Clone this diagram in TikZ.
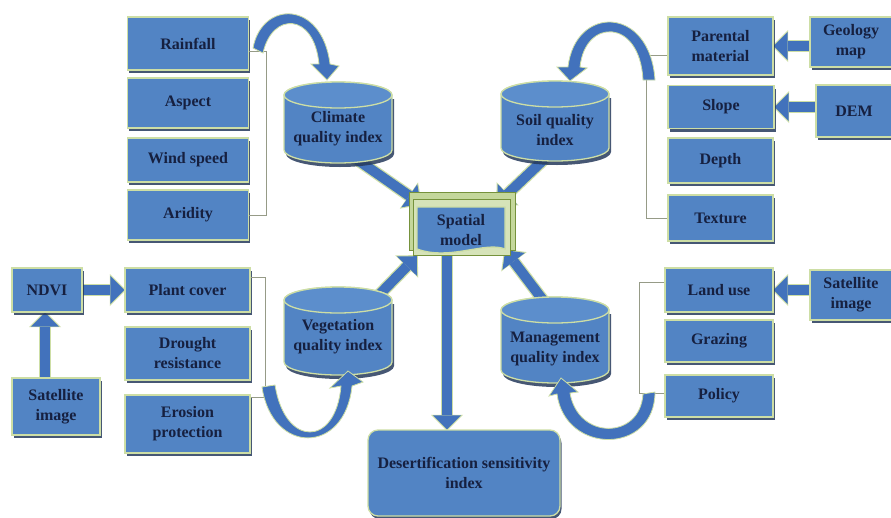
\documentclass[tikz,border=0pt]{standalone}
\usepackage{fontspec}
\setmainfont{Liberation Serif}
\usetikzlibrary{arrows.meta,shadows,calc}
\definecolor{boxblue}{RGB}{82,132,196}
\definecolor{topblue}{RGB}{92,142,204}
\definecolor{arrowblue}{RGB}{66,114,188}
\definecolor{edgegreen}{RGB}{205,222,165}
\definecolor{shadowblue}{RGB}{38,58,92}
\definecolor{textnavy}{RGB}{22,32,64}
\definecolor{brkgray}{RGB}{150,155,135}
\definecolor{framegreen}{RGB}{196,215,155}
\definecolor{framedark}{RGB}{118,146,60}
\pgfdeclarelayer{bg}
\pgfdeclarelayer{arr}
\pgfsetlayers{bg,arr,main}
\newcommand\mycyl[6]{%
  \fill[shadowblue,opacity=0.85] ({#2-52},{#3+4}) -- ({#2-52},{#4+4}) arc[start angle=180,end angle=360,x radius=54pt,y radius=13pt] -- ({#2+56},{#3+4}) -- cycle;
  \filldraw[fill=boxblue, draw=edgegreen, line width=1.3pt] ({#2-54},{#3}) -- ({#2-54},{#4}) arc[start angle=180,end angle=360,x radius=54pt,y radius=13pt] -- ({#2+54},{#3}) arc[start angle=0,end angle=180,x radius=54pt,y radius=13pt] -- cycle;
  \filldraw[fill=topblue, draw=edgegreen, line width=1.3pt] (#2,#3) ellipse[x radius=54pt, y radius=13pt];
  \node[cyltext] (#1) at (#2,#5) {#6};
}
\begin{document}
\begin{tikzpicture}[x=1pt,y=-1pt,
  txt/.style={text=textnavy, font=\fontsize{16}{20}\selectfont\bfseries, align=center},
  box/.style={txt, rectangle, fill=boxblue, draw=edgegreen, line width=1.3pt, inner sep=1pt,
    drop shadow={shadow xshift=1.5pt, shadow yshift=-3pt, fill=shadowblue, opacity=0.85}},
  sz/.style 2 args={minimum width=#1pt, minimum height=#2pt},
  cyltext/.style={txt, inner sep=0pt},
  brk/.style={draw=brkgray, line width=0.8pt},
  cur/.style={fill=arrowblue, draw=edgegreen, line width=0.8pt},
  blk/.style={draw=arrowblue, line width=10pt, -{Triangle[length=14pt,width=28pt,line width=0pt]},
    preaction={draw=edgegreen, line width=12.5pt, shorten >=-1.5pt, -{Triangle[length=16pt,width=32pt,line width=0pt]}}}
]
\useasboundingbox (0,0) rectangle (891,517);
\begin{pgfonlayer}{bg}
\fill[white] (0,0) rectangle (891,517);
\end{pgfonlayer}

% left column
\node[box,sz={121}{53}] (rainfall) at (188,43.5) {Rainfall};
\node[box,sz={121}{50}] (aspect) at (188,103) {Aspect};
\node[box,sz={121}{44}] (wind) at (188,160) {Wind speed};
\node[box,sz={121}{50}] (aridity) at (188,215) {Aridity};
% right column
\node[box,sz={105}{58}] (parental) at (720.5,46) {Parental\\material};
\node[box,sz={82}{50}] (geology) at (851,42) {Geology\\map};
\node[box,sz={106}{43}] (slope) at (721,107) {Slope};
\node[box,sz={76}{52}] (dem) at (854,111) {DEM};
\node[box,sz={105}{45}] (depth) at (720.5,160.5) {Depth};
\node[box,sz={105}{46}] (texture) at (720.5,218) {Texture};
% left lower
\node[box,sz={70}{44}] (ndvi) at (47,290) {NDVI};
\node[box,sz={125}{44}] (plant) at (187.5,290) {Plant cover};
\node[box,sz={125}{53}] (drought) at (187.5,353.5) {Drought\\resistance};
\node[box,sz={125}{58}] (erosion) at (187.5,424) {Erosion\\protection};
\node[box,sz={88}{57}] (satleft) at (56,406.5) {Satellite\\image};
% right lower
\node[box,sz={108}{44}] (land) at (719,290) {Land use};
\node[box,sz={108}{42}] (grazing) at (719,341) {Grazing};
\node[box,sz={108}{42}] (policy) at (719,396) {Policy};
\node[box,sz={82}{50}] (satright) at (851,295) {Satellite\\image};
% output
\node[box,rounded corners=10pt,sz={192}{86}] (desert) at (464,473) {Desertification sensitivity\\index};

% cylinders
\mycyl{climate}{338}{95}{150}{129}{Climate\\quality index}
\mycyl{soil}{555}{94}{148}{130}{Soil quality\\index}
\mycyl{vegetation}{338}{300}{362}{337}{Vegetation\\quality index}
\mycyl{management}{555}{310}{370}{349}{Management\\quality index}

% spatial model (stacked document)
\filldraw[fill=framegreen, draw=framedark, line width=1pt] (409,192) rectangle (515,250);
\filldraw[fill=framegreen!70!white, draw=framedark, line width=0.8pt] (413,199) rectangle (510,255);
\filldraw[fill=boxblue, draw=edgegreen, line width=1.3pt] (417,249) .. controls (450,261) and (485,241) .. (505,249) -- (505,207) -- (417,207) -- cycle;
\node[txt, inner sep=0pt, minimum width=88pt, minimum height=44pt] (spatial) at (461,230) {Spatial\\model};
\begin{pgfonlayer}{arr}
  \draw[blk] ([xshift=-25pt]climate.center) -- ([shift={(4pt,4pt)}]spatial.north west);
  \draw[blk] ([xshift=20pt]soil.center) -- ([shift={(-8pt,4pt)}]spatial.north east);
  \draw[blk] (vegetation.center) -- ([yshift=-4pt]spatial.south west);
  \draw[blk] ([xshift=25pt]management.center) -- ([yshift=2pt]spatial.south east);
  \draw[blk] ([xshift=-14pt]spatial.south) -- ([xshift=-14pt]spatial.south |- desert.north);
  \draw[blk] (ndvi.east) -- (plant.west);
  \draw[blk] ([xshift=-11pt]satleft.north) -- ([xshift=-11pt]satleft.north |- ndvi.south);
  \draw[blk] (geology.west |- parental.east) -- (parental.east);
  \draw[blk] (dem.west |- slope.east) -- (slope.east);
  \draw[blk] (satright.west |- land.east) -- (land.east);
\end{pgfonlayer}

% brackets
\draw[brk] ([yshift=-8pt]rainfall.east) -- ++(17,0) |- (aridity.east);
\draw[brk] ([yshift=-9pt]parental.west) -- ++(-21,0) |- (texture.west);
\draw[brk] ([yshift=13pt]plant.east) -- ++(15,0) |- ([yshift=27pt]erosion.east);
\draw[brk] ([yshift=8pt]land.west) -- ++(-25,0) |- ([yshift=3pt]policy.west);

% curved arrows
\filldraw[cur] (253,48) .. controls (262,0) and (322,0) .. (330,64) -- (339,66) -- (327,80) -- (311,64) -- (319,64) .. controls (314,12) and (272,12) .. (263,53) -- cycle;
\filldraw[cur] (655,80) .. controls (650,5) and (575,5) .. (568,67) -- (557,67) -- (570,81) -- (587,68) -- (580,67) .. controls (585,18) and (640,18) .. (643,80) -- cycle;
\filldraw[cur] (262,387) .. controls (272,455) and (345,455) .. (352,386) -- (363,382) -- (348,371) -- (330,388) -- (341,386) .. controls (336,447) and (285,448) .. (275,385) -- cycle;
\filldraw[cur] (655,392) .. controls (655,455) and (565,455) .. (557,394) -- (549,396) -- (561,378) -- (578,392) -- (570,393) .. controls (578,440) and (640,440) .. (643,394) -- cycle;
\end{tikzpicture}
\end{document}
